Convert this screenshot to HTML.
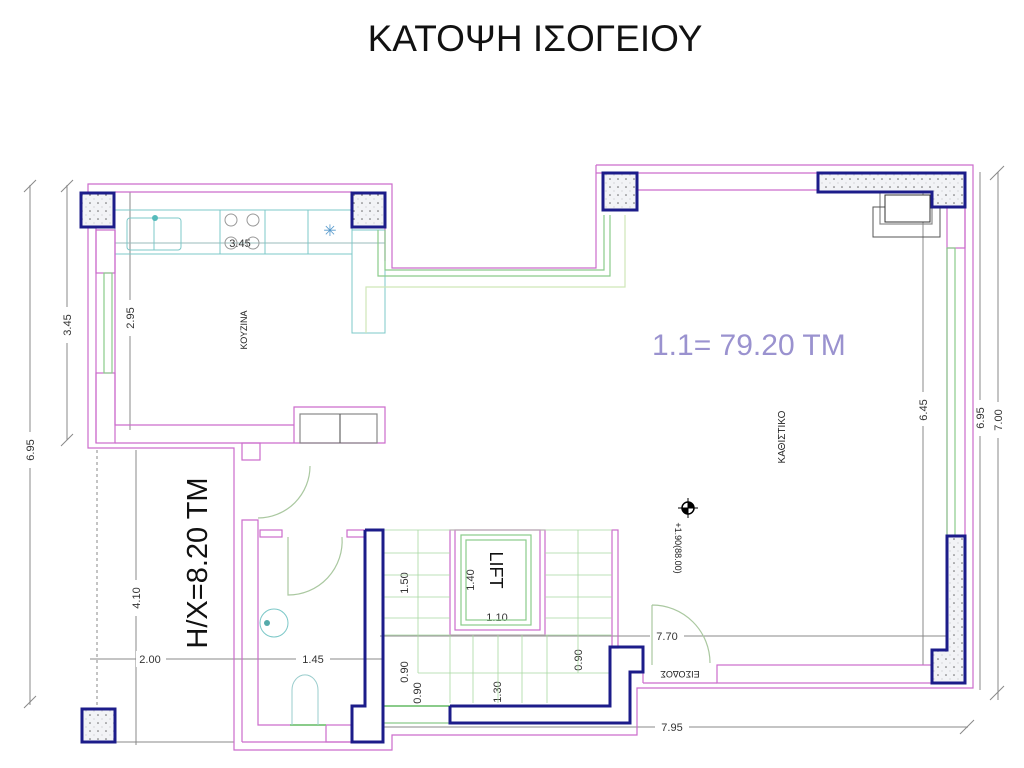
<!DOCTYPE html>
<html><head><meta charset="utf-8"><style>
html,body{margin:0;padding:0;background:#fff;width:1024px;height:768px;overflow:hidden}
svg{display:block}
text{font-family:"Liberation Sans","DejaVu Sans",sans-serif}
</style></head><body>
<svg width="1024" height="768" viewBox="0 0 1024 768" xmlns="http://www.w3.org/2000/svg">
<defs>
<pattern id="dots" width="8" height="8" patternUnits="userSpaceOnUse">
<rect width="8" height="8" fill="#f2f3f6"/><circle cx="2" cy="3" r="0.8" fill="#666"/><circle cx="6" cy="7" r="0.5" fill="#aaa"/>
</pattern>
</defs>
<text x="535" y="51" font-size="37" text-anchor="middle" fill="#111">ΚΑΤΟΨΗ ΙΣΟΓΕΙΟΥ</text>

<g stroke="#888" stroke-width="1" fill="none">
<line x1="30" y1="185" x2="30" y2="705"/>
<line x1="24" y1="192" x2="36" y2="180"/><line x1="24" y1="708" x2="36" y2="696"/>
<line x1="67" y1="185" x2="67" y2="440"/>
<line x1="61" y1="192" x2="73" y2="180"/><line x1="61" y1="446" x2="73" y2="434"/>
<line x1="130" y1="192" x2="130" y2="430"/>
<line x1="136" y1="450" x2="136" y2="745"/>
<line x1="90" y1="659" x2="384" y2="659"/>
<line x1="380" y1="636" x2="947" y2="636"/>
<line x1="384" y1="727" x2="968" y2="727"/>
<line x1="923" y1="190" x2="923" y2="665"/>
<line x1="980" y1="172" x2="980" y2="690"/>
<line x1="998" y1="172" x2="998" y2="700"/>
<line x1="990" y1="180" x2="1004" y2="166"/><line x1="990" y1="700" x2="1004" y2="686"/>
<line x1="960" y1="734" x2="974" y2="720"/>
<line x1="115" y1="243" x2="385" y2="243" stroke="#9bb"/>
<line x1="97" y1="450" x2="97" y2="708" stroke-dasharray="3,3"/>
<line x1="82" y1="742" x2="234" y2="742"/>
</g>
<g fill="#fff">
<rect x="22" y="432" width="16" height="36"/><rect x="59" y="307" width="16" height="36"/>
<rect x="122" y="300" width="16" height="36"/><rect x="128" y="580" width="16" height="36"/>
<rect x="136" y="651" width="30" height="16"/><rect x="296" y="651" width="34" height="16"/>
<rect x="650" y="628" width="34" height="16"/><rect x="655" y="719" width="34" height="16"/>
<rect x="915" y="392" width="16" height="34"/><rect x="972" y="400" width="16" height="36"/><rect x="990" y="402" width="16" height="36"/>
</g>
<g font-size="11" fill="#333">
<text transform="translate(34,450) rotate(-90)" text-anchor="middle">6.95</text>
<text transform="translate(71,325) rotate(-90)" text-anchor="middle">3.45</text>
<text transform="translate(134,318) rotate(-90)" text-anchor="middle">2.95</text>
<text transform="translate(140,598) rotate(-90)" text-anchor="middle">4.10</text>
<text x="150" y="663" text-anchor="middle">2.00</text>
<text x="313" y="663" text-anchor="middle">1.45</text>
<text x="667" y="640" text-anchor="middle">7.70</text>
<text x="672" y="731" text-anchor="middle">7.95</text>
<text transform="translate(927,410) rotate(-90)" text-anchor="middle">6.45</text>
<text transform="translate(984,418) rotate(-90)" text-anchor="middle">6.95</text>
<text transform="translate(1002,420) rotate(-90)" text-anchor="middle">7.00</text>
<text x="240" y="247" text-anchor="middle">3.45</text>
<text transform="translate(408,583) rotate(-90)" text-anchor="middle">1.50</text>
<text transform="translate(474,580) rotate(-90)" text-anchor="middle">1.40</text>
<text x="497" y="621" text-anchor="middle">1.10</text>
<text transform="translate(408,672) rotate(-90)" text-anchor="middle">0.90</text>
<text transform="translate(421,693) rotate(-90)" text-anchor="middle">0.90</text>
<text transform="translate(501,692) rotate(-90)" text-anchor="middle">1.30</text>
<text transform="translate(582,660) rotate(-90)" text-anchor="middle">0.90</text>
</g>

<g stroke="#7cc8c8" fill="none" stroke-width="1">
<rect x="115" y="210" width="237" height="44"/>
<rect x="352" y="230" width="33" height="103"/>
<rect x="127" y="218" width="54" height="32" rx="3"/>
<line x1="154" y1="218" x2="154" y2="250"/>
<line x1="220" y1="210" x2="220" y2="254"/><line x1="265" y1="210" x2="265" y2="254"/><line x1="308" y1="210" x2="308" y2="254"/>
<circle cx="231" cy="220" r="6" stroke="#999"/><circle cx="253" cy="220" r="6" stroke="#999"/>
<circle cx="231" cy="243" r="6" stroke="#999"/><circle cx="253" cy="243" r="6" stroke="#999"/>
</g>
<text x="330" y="236" font-size="16" fill="#59c" text-anchor="middle">✳</text>

<g stroke="#cc6ccc" fill="none" stroke-width="1.2">
<polyline points="596,165 973,165 973,688 637,688 637,735 392,735 392,750 234,750 234,448 88,448 88,184 392,184 392,268 596,268 596,165"/>
<line x1="115" y1="192" x2="352" y2="192"/>
<polyline points="115,230 115,425 294,425"/>
<polyline points="96,192 96,443"/>
<rect x="96" y="230" width="19" height="43"/><rect x="96" y="373" width="19" height="70"/>
<polyline points="294,443 294,407 385,407 385,443 115,443"/>
<rect x="300" y="414" width="77" height="29" stroke="#888"/>
<line x1="340" y1="414" x2="340" y2="443" stroke="#666"/>
<line x1="385" y1="192" x2="385" y2="261"/>
<polyline points="637,190 947,190"/>
<line x1="596" y1="173" x2="818" y2="173"/>
<rect x="947" y="207" width="18" height="41"/>
<line x1="965" y1="207" x2="965" y2="536"/>
<line x1="947" y1="248" x2="947" y2="536"/>
<rect x="717" y="665" width="215" height="18"/>
<line x1="643" y1="665" x2="643" y2="683"/>
<line x1="643" y1="683" x2="717" y2="683"/>
<rect x="242" y="443" width="18" height="17"/>
<polyline points="242,742 242,520 258,520 258,725 290,725"/>
<rect x="260" y="530" width="22" height="7"/><rect x="347" y="530" width="18" height="7"/>
<rect x="326" y="725" width="26" height="17"/>
<line x1="242" y1="742" x2="352" y2="742"/>
<rect x="450" y="530" width="95" height="105"/>
<rect x="455" y="530" width="85" height="100"/>
<rect x="612" y="530" width="6" height="118"/>
<rect x="880" y="192" width="52" height="32" stroke="#888"/>
</g>
<rect x="873" y="207" width="67" height="30" fill="none" stroke="#555"/>
<rect x="885" y="195" width="45" height="27" fill="#fff" stroke="#333"/>

<g stroke="#8acb8a" fill="none" stroke-width="1.2">
<polyline points="378,230 378,276 610,276 610,215"/>
<polyline points="385,230 385,270 604,270 604,215"/>
<polyline points="366,333 366,287 625,287 625,215" stroke="#cfe6b8"/>
<rect x="104" y="273" width="8" height="100"/>
<rect x="947" y="248" width="8" height="288"/>
<rect x="461" y="535" width="70" height="90"/>
<rect x="466" y="540" width="60" height="80"/>
<g stroke-width="0.8" stroke="#a8d8a0">
<line x1="384" y1="530" x2="612" y2="530"/>
<line x1="384" y1="553" x2="450" y2="553"/><line x1="384" y1="575" x2="450" y2="575"/><line x1="384" y1="597" x2="450" y2="597"/><line x1="384" y1="618" x2="450" y2="618"/>
<line x1="545" y1="553" x2="612" y2="553"/><line x1="545" y1="575" x2="612" y2="575"/><line x1="545" y1="597" x2="612" y2="597"/><line x1="545" y1="618" x2="612" y2="618"/>
<line x1="384" y1="635" x2="612" y2="635"/>
<line x1="418" y1="530" x2="418" y2="673"/><line x1="578" y1="530" x2="578" y2="673"/>
<line x1="418" y1="673" x2="610" y2="673"/>
<line x1="450" y1="635" x2="450" y2="703"/><line x1="473" y1="635" x2="473" y2="703"/><line x1="498" y1="635" x2="498" y2="703"/><line x1="522" y1="635" x2="522" y2="703"/><line x1="547" y1="635" x2="547" y2="703"/>
</g>
<line x1="384" y1="706" x2="450" y2="706" stroke-width="2"/>
<line x1="384" y1="723" x2="450" y2="723"/>
<line x1="290" y1="725" x2="326" y2="725" stroke-width="2"/>
<path d="M310,466 A52,52 0 0 1 258,518" stroke="#aac8a0"/>
<path d="M288,537 L288,595 A54,54 0 0 0 342,537" stroke="#aac8a0"/>
<path d="M652,605 L652,665 M652,605 A58,58 0 0 1 710,663" stroke="#aac8a0"/>
</g>

<g stroke="#1c1c8a" stroke-width="3" fill="none">
<polyline points="365,530 383,530 383,742 352,742 352,706 365,706 365,530"/>
<polyline points="450,706 610,706 610,647 643,647 643,672 630,672 630,723 450,723 450,706"/>
</g>
<g stroke="#1c1c8a" stroke-width="3" fill="url(#dots)">
<rect x="81" y="193" width="33" height="34"/>
<rect x="352" y="193" width="33" height="34"/>
<rect x="603" y="173" width="34" height="37"/>
<polygon points="818,173 965,173 965,207 932,207 932,192 818,192"/>
<polygon points="947,536 965,536 965,683 932,683 932,650 947,650"/>
<rect x="82" y="709" width="33" height="33"/>
</g>

<ellipse cx="274" cy="623" rx="14" ry="14" fill="none" stroke="#7cc8c8"/>
<circle cx="267" cy="623" r="3" fill="#5aa"/>
<path d="M292,725 L292,690 A12,14 0 0 1 318,690 L318,725" fill="none" stroke="#9cc"/>
<circle cx="155" cy="218" r="3" fill="#5bb"/>

<text x="652" y="355" font-size="30" fill="#9a92cf">1.1= 79.20 TM</text>
<text transform="translate(785,437) rotate(-90)" font-size="10" fill="#222" text-anchor="middle">ΚΑΘΙΣΤΙΚΟ</text>
<text transform="translate(247,330) rotate(-90)" font-size="9" fill="#222" text-anchor="middle">ΚΟΥΖΙΝΑ</text>
<text transform="translate(207,563) rotate(-90)" font-size="29" fill="#111" text-anchor="middle">H/X=8.20 TM</text>
<text transform="translate(490,570) rotate(90)" font-size="18" fill="#111" text-anchor="middle">LIFT</text>
<text transform="translate(675,548) rotate(90)" font-size="9" fill="#222" text-anchor="middle">+1.90(88.00)</text>
<text transform="translate(680,671) rotate(180)" font-size="9" fill="#222" text-anchor="middle">ΕΙΣΟΔΟΣ</text>
<circle cx="688" cy="508" r="6" fill="#fff" stroke="#000" stroke-width="1.5"/>
<path d="M688,502 A6,6 0 0 1 694,508 L688,508Z M688,514 A6,6 0 0 1 682,508 L688,508Z" fill="#000"/>
<line x1="678" y1="508" x2="698" y2="508" stroke="#000"/><line x1="688" y1="498" x2="688" y2="518" stroke="#000"/>
</svg>
</body></html>
